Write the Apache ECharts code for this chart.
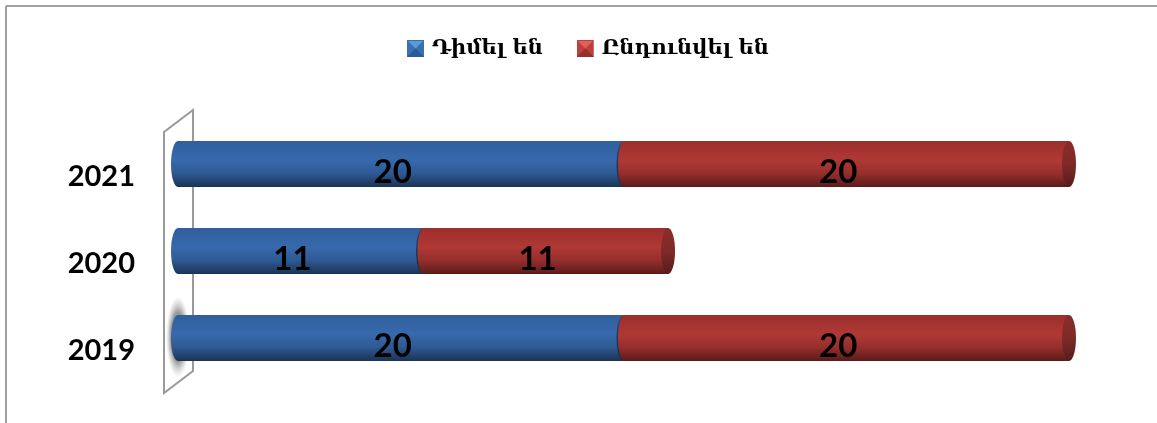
<!DOCTYPE html>
<html>
<head>
<meta charset="utf-8">
<style>html,body{margin:0;padding:0;background:#fff}#c{width:1157px;height:423px}</style>
<script src="https://cdn.jsdelivr.net/npm/echarts@6/dist/echarts.min.js"></script>
</head>
<body>
<div id="c"></div>
<script>
const categories = ['2019', '2020', '2021'];
const seriesNames = ['Դիմել են', 'Ընդունվել են'];
const applied = [20, 11, 20];
const admitted = [20, 11, 20];

const grad = (stops) => new echarts.graphic.LinearGradient(0, 0, 0, 1,
  stops.map((c) => ({ offset: c[0], color: c[1] })));
const blueFill = grad([[0, '#2f5f9c'], [0.42, '#3869ad'], [0.7, '#2e5a94'], [1, '#1a3353']]);
const redFill = grad([[0, '#9a2f2d'], [0.42, '#b03835'], [0.7, '#952f2c'], [1, '#5a1b1a']]);
const redCap = grad([[0, '#8a2c2a'], [0.5, '#7f2a28'], [1, '#561c1b']]);
const blueCap = grad([[0, '#234a7c'], [1, '#152a45']]);

const icon = (a, b, d) => 'image://data:image/svg+xml;utf8,' + encodeURIComponent(
  '<svg xmlns="http://www.w3.org/2000/svg" width="17" height="17">' +
  '<rect width="17" height="17" fill="' + b + '"/>' +
  '<polygon points="1,1 16,1 8.5,8.5" fill="' + a + '"/>' +
  '<polygon points="0,17 8.5,8.5 17,17" fill="' + d + '"/></svg>');

function rows(values, base) {
  return values.map((v, i) => [i, base ? base[i] : 0, (base ? base[i] : 0) + v, v]);
}

function cylinder(fill, capFill, startRx) {
  return function (params, api) {
    const cat = api.value(0);
    const p0 = api.coord([api.value(1), cat]);
    const p1 = api.coord([api.value(2), cat]);
    const h = api.size([0, 1])[1] * 0.53;
    const rx = 7, ry = h / 2, top = p0[1] - ry;
    const labelX = (p0[0] + p1[0]) / 2;
    return {
      type: 'group',
      children: [
        { type: 'rect', shape: { x: p0[0], y: top, width: p1[0] - p0[0], height: h }, style: { fill: fill } },
        { type: 'ellipse', shape: { cx: p0[0], cy: p0[1], rx: startRx, ry: ry }, style: { fill: fill } },
        { type: 'ellipse', shape: { cx: p1[0], cy: p1[1], rx: rx, ry: ry }, style: { fill: capFill } },
        { type: 'text', style: { x: labelX - 8, y: p0[1] + 8, text: String(api.value(3)), align: 'center', verticalAlign: 'middle',
            font: 'bold 33px Lato', fill: '#000' } }
      ]
    };
  };
}

const chart = echarts.init(document.getElementById('c'), null, { renderer: 'canvas' });
chart.setOption({
  animation: false,
  backgroundColor: '#fff',
  grid: { left: 178, width: 891, top: 120.5, height: 261 },
  xAxis: { type: 'value', min: 0, max: 40, show: false },
  yAxis: {
    type: 'category', data: categories,
    axisLine: { show: false }, axisTick: { show: false },
    axisLabel: { margin: 43, fontFamily: 'Lato', fontWeight: 'bold', fontSize: 29, lineHeight: 26, color: '#000', verticalAlign: 'top' }
  },
  legend: {
    left: 402, top: 33, itemWidth: 17, itemHeight: 17, itemGap: 34,
    textStyle: { fontFamily: 'DejaVu Serif', fontWeight: 'bold', fontSize: 21, color: '#000', padding: [0, 0, 0, 3] },
    data: [
      { name: seriesNames[0], icon: icon('#5b9ad8', '#3a6fb0', '#2a5a96') },
      { name: seriesNames[1], icon: icon('#e2605c', '#bd3f3c', '#932e2c') }
    ]
  },
  graphic: [
    { type: 'rect', z: 0, silent: true, shape: { x: 0, y: 0, width: 1157, height: 423 }, style: { fill: '#fff' } },
    { type: 'line', z: 1, shape: { x1: 6, y1: 6, x2: 1157, y2: 6 }, style: { stroke: '#a0a0a0', lineWidth: 2 } },
    { type: 'line', z: 1, shape: { x1: 6, y1: 6, x2: 6, y2: 423 }, style: { stroke: '#a0a0a0', lineWidth: 2 } },
    { type: 'polygon', z: 1, shape: { points: [[164, 132], [193, 110], [193, 371], [164, 393]] }, style: { fill: '#fff', stroke: '#999', lineWidth: 2 } },
    { type: 'circle', z: 1, x: 178, y: 337, scaleY: 3.4, shape: { cx: 0, cy: 0, r: 12 },
      style: { fill: new echarts.graphic.RadialGradient(0.5, 0.5, 0.5, [
        { offset: 0, color: 'rgba(90,90,90,0.95)' },
        { offset: 0.6, color: 'rgba(120,120,120,0.75)' },
        { offset: 1, color: 'rgba(180,180,180,0)' }]) } }
  ],
  series: [
    { name: seriesNames[0], type: 'custom', z: 3, itemStyle: { color: '#3869ad' }, renderItem: cylinder(blueFill, blueCap, 7), data: rows(applied), encode: { x: [1, 2], y: 0 } },
    { name: seriesNames[1], type: 'custom', z: 4, itemStyle: { color: '#b03835' }, renderItem: cylinder(redFill, redCap, 5.5), data: rows(admitted, applied), encode: { x: [1, 2], y: 0 } }
  ]
});
</script>
</body>
</html>
